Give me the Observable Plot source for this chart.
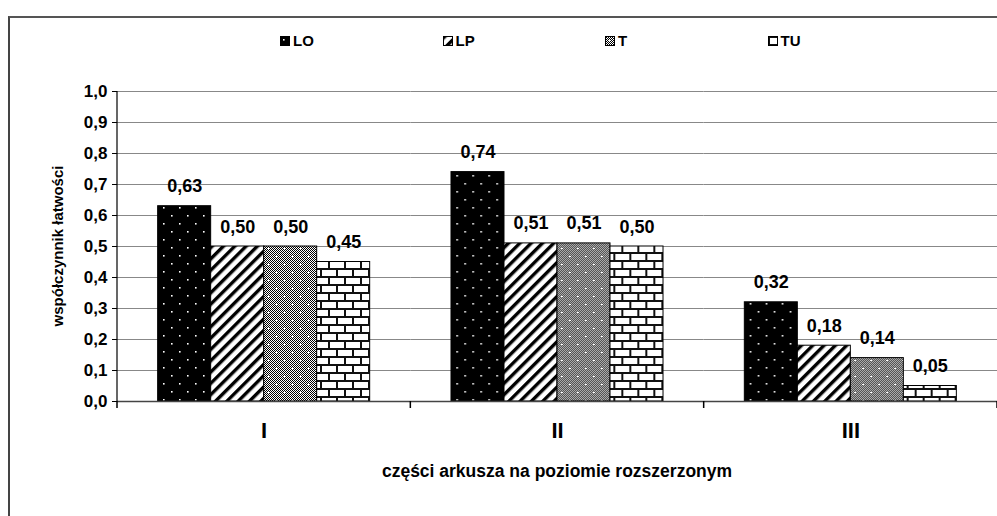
<!DOCTYPE html>
<html><head><meta charset="utf-8">
<script src="https://cdn.jsdelivr.net/npm/d3@7"></script>
<script src="https://cdn.jsdelivr.net/npm/@observablehq/plot@0.6"></script>
<style>
html,body{margin:0;padding:0;background:#fff;}
body{width:997px;height:516px;overflow:hidden;position:relative;font-family:"Liberation Sans",Arial,sans-serif;font-weight:bold;color:#000;}
#frame{position:absolute;left:8px;top:16px;width:1200px;height:800px;border-left:2px solid #444;border-top:2px solid #555;z-index:5;pointer-events:none;}
#legend{position:absolute;left:0;top:0;width:997px;height:60px;}
.li{position:absolute;top:32px;font-size:15px;display:flex;align-items:center;height:17px;}
.li svg{margin-right:3px;display:block}
#chart{position:absolute;left:0;top:60px;}
#xtitle{position:absolute;left:117px;right:0;top:461px;text-align:center;font-size:17.5px;}
</style></head><body>
<div id="frame"></div>
<div id="legend"></div>
<div id="chart"></div>
<div id="xtitle"></div>
<script>
const parts = ["I", "II", "III"];
const series = ["LO", "LP", "T", "TU"];
const valuesLO = [0.63, 0.74, 0.32];
const valuesLP = [0.50, 0.51, 0.18];
const valuesT  = [0.50, 0.51, 0.14];
const valuesTU = [0.45, 0.50, 0.05];
const yTicks = [0, 0.1, 0.2, 0.3, 0.4, 0.5, 0.6, 0.7, 0.8, 0.9, 1.0];
const yTitle = "współczynnik łatwości";
const xTitle = "części arkusza na poziomie rozszerzonym";

const bySeries = {LO: valuesLO, LP: valuesLP, T: valuesT, TU: valuesTU};
const data = parts.flatMap((p, i) => series.map(s => ({part: p, series: s, value: bySeries[s][i]})));
const fmt2 = v => v.toFixed(2).replace(".", ",");
const fmt1 = v => v.toFixed(1).replace(".", ",");

// --- patterns ---
const defs = d3.select("body").append("svg").attr("width", 0).attr("height", 0)
  .style("position", "absolute").style("left", 0).style("top", 0).append("defs");
function pattern(id, w, h) {
  return defs.append("pattern").attr("id", id).attr("width", w).attr("height", h).attr("patternUnits", "userSpaceOnUse");
}
function rect(g, x, y, w, h, fill) { g.append("rect").attr("x", x).attr("y", y).attr("width", w).attr("height", h).attr("fill", fill); }
const chk = pattern("pChk", 2, 2);
rect(chk, 0, 0, 2, 2, "#fff"); rect(chk, 0, 0, 1, 1, "#000"); rect(chk, 1, 1, 1, 1, "#000");
const lo = pattern("pLO", 16, 16);
rect(lo, 0, 0, 16, 16, "#000"); rect(lo, 3, 3, 1.6, 1.6, "#fff"); rect(lo, 11, 11, 1.6, 1.6, "#fff");
const lp = pattern("pLP", 8, 8).attr("patternTransform", "rotate(45)");
rect(lp, 0, 0, 8, 8, "#fff"); rect(lp, 0, 0, 3.4, 8, "#000");
const pt = pattern("pT", 16, 16);
rect(pt, 0, 0, 16, 16, "url(#pChk)");
[[4, 4], [12, 12]].forEach(([x, y]) => { rect(pt, x - 1, y, 3, 1, "#fff"); rect(pt, x, y - 1, 1, 3, "#fff"); });
const tu = pattern("pTU", 16, 16);
rect(tu, 0, 0, 16, 16, "#111");
rect(tu, 2, 2, 14, 6, "#fff"); rect(tu, 0, 10, 8, 6, "#fff"); rect(tu, 10, 10, 6, 6, "#fff");

// --- legend ---
const legend = d3.select("#legend");
series.forEach((s, i) => {
  const item = legend.append("div").attr("class", "li").style("left", (280 + i * 162.5) + "px");
  const sv = item.append("svg").attr("width", 10).attr("height", 10);
  sv.append("rect").attr("x", 0.5).attr("y", 0.5).attr("width", 9).attr("height", 9)
    .attr("fill", `url(#p${s})`).attr("stroke", "#000").attr("stroke-width", 1);
  item.append("span").text(s);
});

// --- chart ---
const plot = Plot.plot({
  width: 997, height: 390,
  marginTop: 31, marginBottom: 49, marginLeft: 117, marginRight: 0,
  style: {fontFamily: "'Liberation Sans', Arial, sans-serif", fontSize: "17px", fontWeight: "bold", color: "#000", background: "transparent", overflow: "visible"},
  fx: {domain: parts, padding: 0, axis: null, label: null, round: false},
  x: {domain: series, paddingInner: 0, paddingOuter: 0.767, axis: null, round: false},
  y: {domain: [0, 1], ticks: yTicks, tickFormat: fmt1, tickSize: 5, tickPadding: 5, label: null},
  color: {type: "identity"},
  marks: [
    Plot.ruleY(yTicks, {stroke: "#888", strokeWidth: 1}),
    Plot.barY(data, {fx: "part", x: "series", y: "value", fill: d => `url(#p${d.series})`, stroke: "#000", strokeWidth: 1}),
    Plot.ruleY([0], {stroke: "#444", strokeWidth: 1.5}),
    Plot.text(data, {fx: "part", x: "series", y: "value", text: d => fmt2(d.value), dy: -14, lineAnchor: "bottom", fontSize: 18, fontWeight: "bold"}),
    Plot.text(parts, {fx: d => d, text: d => d, frameAnchor: "bottom", dy: 36, fontSize: 22, fontWeight: "bold"})
  ]
});
document.getElementById("chart").appendChild(plot);

// axis line, y title and category separators, positioned through the plot's scales
const fxS = plot.scale("fx"), yS = plot.scale("y");
const svg = d3.select(plot);
const ya = yS.apply(0), yb = yS.apply(1);
const xa = fxS.apply(parts[0]);
svg.append("line").attr("x1", xa).attr("x2", xa).attr("y1", yb).attr("y2", ya).attr("stroke", "#000").attr("stroke-width", 1.2);
const edges = parts.map(p => fxS.apply(p)).concat([fxS.apply(parts[parts.length - 1]) + fxS.bandwidth]);
edges.forEach(x => svg.append("line").attr("x1", x).attr("x2", x).attr("y1", ya).attr("y2", ya + 7).attr("stroke", "#000").attr("stroke-width", 1.5));
svg.append("text").attr("transform", `translate(${xa - 54},${(ya + yb) / 2}) rotate(-90)`)
  .attr("text-anchor", "middle").attr("font-size", 15).attr("font-weight", "bold").attr("fill", "#000").text(yTitle);

d3.select("#xtitle").text(xTitle);
</script>
</body></html>
